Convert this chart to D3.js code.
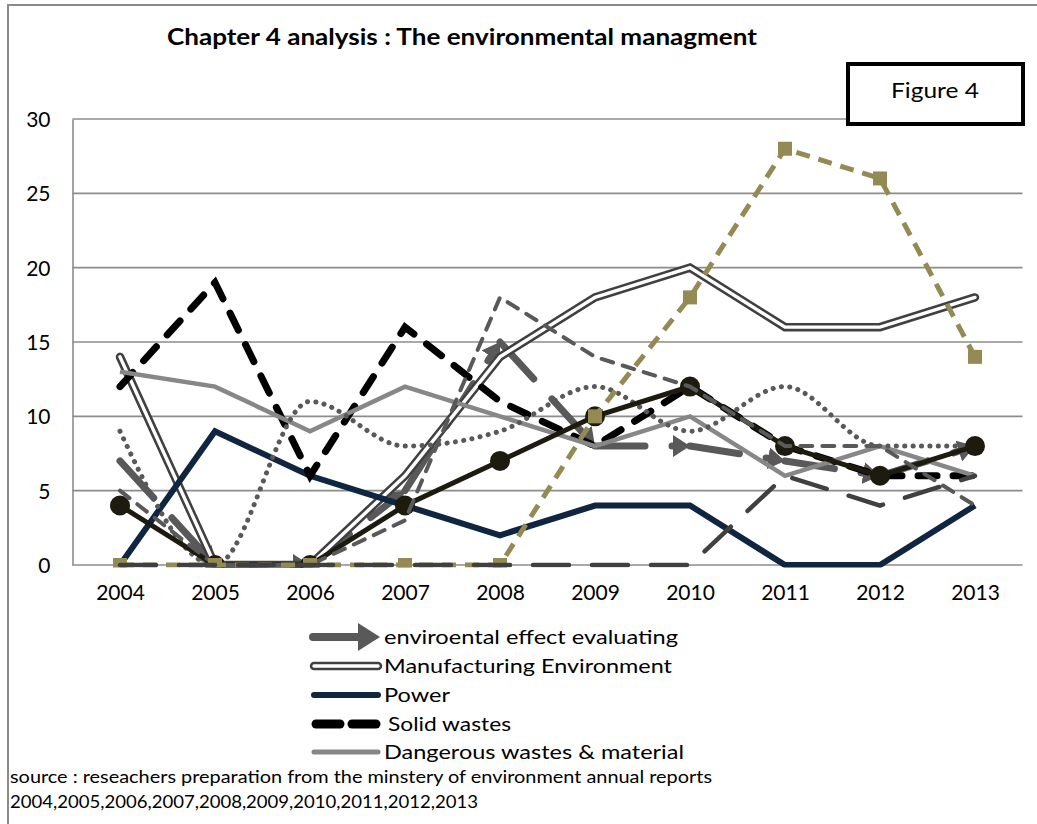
<!DOCTYPE html>
<html>
<head>
<meta charset="utf-8">
<script src="https://cdn.jsdelivr.net/npm/d3@7"></script>
<style>
  html, body { margin: 0; padding: 0; background: #fff; }
  svg { display: block; }
  text { font-family: Lato, "Open Sans", "Liberation Sans", sans-serif; fill: #000; }
</style>
</head>
<body>
<svg id="chart" width="1037" height="824"></svg>
<script>
// ---------------- data ----------------
const years = ["2004","2005","2006","2007","2008","2009","2010","2011","2012","2013"];
const yTicks = [0, 5, 10, 15, 20, 25, 30];

const evalValues     = [7, 0, 0, 5, 15, 8, 8, 7, 6, 8];      // enviroental effect evaluating (arrows)
const manufValues    = [14, 0, 0, 6, 14, 18, 20, 16, 16, 18]; // Manufacturing Environment (double line)
const powerValues    = [0, 9, 6, 4, 2, 4, 4, 0, 0, 4];        // Power
const solidValues    = [12, 19, 6, 16, 11, 8, 12, 8, 6, 6];   // Solid wastes
const dangerValues   = [13, 12, 9, 12, 10, 8, 10, 6, 8, 6];   // Dangerous wastes & material
const dottedValues   = [9, 0, 11, 8, 9, 12, 9, 12, 8, 8];     // unlabeled dotted series
const circleValues   = [4, 0, 0, 4, 7, 10, 12, 8, 6, 8];      // unlabeled circle-marker series
const dashedValues   = [5, 0, 0, 3, 18, 14, 12, 8, 8, 4];     // unlabeled dashed series
const oliveValues    = [0, 0, 0, 0, 0, 10, 18, 28, 26, 14];   // unlabeled olive series
const longDashValues = [0, 0, 0, 0, 0, 0, 0, 6, 4, 6];        // unlabeled long-dash series

const legendLabels = ["enviroental effect evaluating", "Manufacturing Environment", "Power", "Solid wastes", "Dangerous wastes & material"];
const titleText = "Chapter 4 analysis : The environmental managment";
const figureText = "Figure 4";
const sourceLines = ["source :  reseachers preparation from the minstery of environment annual reports",
                     "2004,2005,2006,2007,2008,2009,2010,2011,2012,2013"];

// ---------------- layout ----------------
const svg = d3.select("#chart");
const plot = { left: 72.5, right: 1022.5, top: 119, bottom: 565 };

const x = d3.scalePoint().domain(years).range([plot.left, plot.right]).padding(0.5);
const y = d3.scaleLinear().domain([0, 30]).range([plot.bottom, plot.top]);

// outer frame
svg.append("rect").attr("x", 8).attr("y", 5).attr("width", 1060).attr("height", 850)
  .attr("fill", "none").attr("stroke", "#8a8a8a").attr("stroke-width", 2);

// defs: arrow marker + clip
const defs = svg.append("defs");
defs.append("marker").attr("id", "arrow").attr("markerUnits", "userSpaceOnUse")
  .attr("viewBox", "0 -11 17 22").attr("markerWidth", 17).attr("markerHeight", 22)
  .attr("refX", 17).attr("refY", 0).attr("orient", "auto")
  .append("path").attr("d", "M0,-11L17,0L0,11Z").attr("fill", "#595959");
defs.append("clipPath").attr("id", "plotClip").append("rect")
  .attr("x", plot.left - 2).attr("y", plot.top - 20)
  .attr("width", plot.right - plot.left + 4).attr("height", plot.bottom - plot.top + 22.5);

// gridlines
svg.append("g").selectAll("line").data(yTicks.filter(d => d > 0)).join("line")
  .attr("x1", plot.left).attr("x2", plot.right)
  .attr("y1", d => y(d)).attr("y2", d => y(d))
  .attr("stroke", "#8c8c8c").attr("stroke-width", 1.6);

// axes
const yAxis = svg.append("g").attr("transform", `translate(${plot.left},0)`)
  .call(d3.axisLeft(y).tickValues(yTicks).tickSize(0).tickPadding(22));
yAxis.select(".domain").attr("stroke", "#8c8c8c").attr("stroke-width", 1.6);
yAxis.selectAll("text").style("font-size", "21px").attr("dy", "0.36em");

const xAxis = svg.append("g").attr("transform", `translate(0,${plot.bottom})`)
  .call(d3.axisBottom(x).tickSize(0).tickPadding(24));
xAxis.select(".domain").attr("stroke", "#8c8c8c").attr("stroke-width", 1.6).attr("d", `M${plot.left},0H${plot.right}`);
xAxis.selectAll("text").style("font-size", "21px").attr("dy", "0.5em");

const pts = vals => vals.map((v, i) => [x(years[i]), y(v)]);
const line = d3.line();
const g = svg.append("g").attr("clip-path", "url(#plotClip)");

// 1. arrow series (segment by segment, each ends with arrowhead)
const evalPts = pts(evalValues);
const segs = d3.range(evalPts.length - 1).map(i => {
  const [x0, y0] = evalPts[i], [x1, y1] = evalPts[i + 1];
  const len = Math.hypot(x1 - x0, y1 - y0);
  const k = (len - 9) / len;
  return { a: [x0, y0], b: [x0 + (x1 - x0) * k, y0 + (y1 - y0) * k], tip: [x1, y1] };
});
g.append("g").selectAll("path").data(segs).join("path")
  .attr("d", s => line([s.a, s.b]))
  .attr("fill", "none").attr("stroke", "#595959").attr("stroke-width", 7)
  .attr("stroke-linecap", "round").attr("stroke-dasharray", "50,27");
g.append("g").selectAll("path").data(segs).join("path")
  .attr("d", s => line([s.b, s.tip]))
  .attr("fill", "none").attr("stroke", "none")
  .attr("marker-end", "url(#arrow)");

// 2. manufacturing (double line)
g.append("path").attr("d", line(pts(manufValues))).attr("fill", "none")
  .attr("stroke", "#404040").attr("stroke-width", 8.5).attr("stroke-linecap", "round").attr("stroke-linejoin", "miter");
g.append("path").attr("d", line(pts(manufValues))).attr("fill", "none")
  .attr("stroke", "#fff").attr("stroke-width", 3.4).attr("stroke-linecap", "round").attr("stroke-linejoin", "miter");

// 3. power
g.append("path").attr("d", line(pts(powerValues))).attr("fill", "none")
  .attr("stroke", "#10253f").attr("stroke-width", 6).attr("stroke-linejoin", "miter");

// 4. solid wastes
g.append("path").attr("d", line(pts(solidValues))).attr("fill", "none")
  .attr("stroke", "#000").attr("stroke-width", 7).attr("stroke-linecap", "round")
  .attr("stroke-dasharray", "19,16");

// 5. dangerous
g.append("path").attr("d", line(pts(dangerValues))).attr("fill", "none")
  .attr("stroke", "#878787").attr("stroke-width", 4.5);

// 6. dotted (smoothed)
g.append("path").attr("d", d3.line().curve(d3.curveMonotoneX)(pts(dottedValues))).attr("fill", "none")
  .attr("stroke", "#595959").attr("stroke-width", 5).attr("stroke-linecap", "round")
  .attr("stroke-dasharray", "0.1,8.3");

// 7. circle markers series
g.append("path").attr("d", line(pts(circleValues))).attr("fill", "none")
  .attr("stroke", "#1d1b10").attr("stroke-width", 5);
g.append("g").selectAll("circle").data(pts(circleValues)).join("circle")
  .attr("cx", d => d[0]).attr("cy", d => d[1]).attr("r", 10).attr("fill", "#1d1b10");

// 8. dashed gray
g.append("path").attr("d", line(pts(dashedValues))).attr("fill", "none")
  .attr("stroke", "#595959").attr("stroke-width", 4).attr("stroke-linecap", "round")
  .attr("stroke-dasharray", "12,10");

// 9. olive dashed with square markers
g.append("path").attr("d", line(pts(oliveValues))).attr("fill", "none")
  .attr("stroke", "#948a54").attr("stroke-width", 5)
  .attr("stroke-dasharray", "14,9");
g.append("g").selectAll("rect").data(pts(oliveValues)).join("rect")
  .attr("x", d => d[0] - 7).attr("y", d => d[1] - 7).attr("width", 14).attr("height", 14)
  .attr("fill", "#948a54");

// 10. long dash dark
g.append("path").attr("d", line(pts(longDashValues))).attr("fill", "none")
  .attr("stroke", "#404040").attr("stroke-width", 4.5).attr("stroke-linecap", "round")
  .attr("stroke-dasharray", "36,23");

// ---------------- title & figure box ----------------
svg.append("text").attr("x", 167).attr("y", 45).text(titleText)
  .style("font-size", "22px").style("font-weight", "bold")
  .attr("textLength", 590).attr("lengthAdjust", "spacingAndGlyphs");

svg.append("rect").attr("x", 848).attr("y", 64).attr("width", 175).attr("height", 60)
  .attr("fill", "#fff").attr("stroke", "#000").attr("stroke-width", 4);
svg.append("text").attr("x", 935).attr("y", 98).attr("text-anchor", "middle").text(figureText)
  .style("font-size", "22px").attr("textLength", 88).attr("lengthAdjust", "spacingAndGlyphs");

// ---------------- legend ----------------
const legendY = [637, 666, 695, 724, 752];
const legendW = [294, 288, 66, 123, 300];
const leg = svg.append("g");
leg.selectAll("text").data(legendLabels).join("text")
  .attr("x", (d, i) => i === 3 ? 388 : 384)
  .attr("y", (d, i) => legendY[i] + 7)
  .text(d => d).style("font-size", "20px")
  .attr("textLength", (d, i) => legendW[i]).attr("lengthAdjust", "spacingAndGlyphs");

// legend symbols
leg.append("path").attr("d", line([[313, legendY[0]], [360, legendY[0]]]))
  .attr("stroke", "#595959").attr("stroke-width", 8).attr("stroke-linecap", "round");
leg.append("path").attr("d", `M358,${legendY[0] - 14}L380,${legendY[0]}L358,${legendY[0] + 14}Z`).attr("fill", "#595959");

leg.append("path").attr("d", line([[314, legendY[1]], [378, legendY[1]]]))
  .attr("stroke", "#404040").attr("stroke-width", 8.5).attr("stroke-linecap", "round");
leg.append("path").attr("d", line([[314, legendY[1]], [378, legendY[1]]]))
  .attr("stroke", "#fff").attr("stroke-width", 3.4).attr("stroke-linecap", "round");

leg.append("path").attr("d", line([[314, legendY[2]], [378, legendY[2]]]))
  .attr("stroke", "#10253f").attr("stroke-width", 6).attr("stroke-linecap", "round");

leg.append("path").attr("d", line([[316, legendY[3]], [340, legendY[3]]]))
  .attr("stroke", "#000").attr("stroke-width", 9).attr("stroke-linecap", "round");
leg.append("path").attr("d", line([[352, legendY[3]], [376, legendY[3]]]))
  .attr("stroke", "#000").attr("stroke-width", 9).attr("stroke-linecap", "round");

leg.append("path").attr("d", line([[314, legendY[4]], [378, legendY[4]]]))
  .attr("stroke", "#878787").attr("stroke-width", 5).attr("stroke-linecap", "round");

// ---------------- source ----------------
svg.append("g").selectAll("text").data(sourceLines).join("text")
  .attr("x", 10).attr("y", (d, i) => 783 + i * 25)
  .text(d => d).style("font-size", "17px")
  .attr("textLength", (d, i) => i === 0 ? 702 : 468).attr("lengthAdjust", "spacingAndGlyphs");
</script>
</body>
</html>
